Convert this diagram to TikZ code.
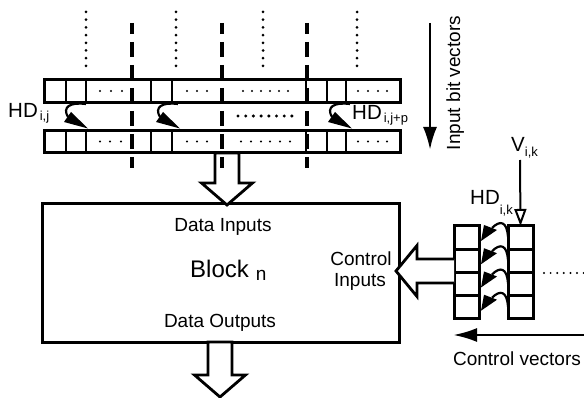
\documentclass[tikz,border=0pt]{standalone}
\usepackage{fontspec}
\setmainfont{Liberation Sans}
\usetikzlibrary{arrows.meta,calc}
\newcommand\fsmain{\fontsize{19}{22}\selectfont}
\newcommand\fslab{\fontsize{20.5}{24}\selectfont}
\newcommand\fssub{\fontsize{13}{15}\selectfont}
\newcommand\fsbig{\fontsize{24}{28}\selectfont}
% wide hollow arrow pointing down: #1 start of shaft, #2 tip
\newcommand\fatdown[2]{\draw[fat] let \p1=#1, \p2=#2 in
  (\x2-12pt,\y1) -- (\x2-12pt,\y2+22pt) -- (\x2-25.5pt,\y2+22pt) -- (\x2,\y2)
  -- (\x2+25.5pt,\y2+22pt) -- (\x2+12pt,\y2+22pt) -- (\x2+12pt,\y1) -- cycle;}
% wide hollow arrow pointing left: #1 start of shaft, #2 tip
\newcommand\fatleft[2]{\draw[fat] let \p1=#1, \p2=#2 in
  (\x1,\y2+12pt) -- (\x2+21pt,\y2+12pt) -- (\x2+21pt,\y2+25.5pt) -- (\x2,\y2)
  -- (\x2+21pt,\y2-25.5pt) -- (\x2+21pt,\y2-12pt) -- (\x1,\y2-12pt);}
\begin{document}
\begin{tikzpicture}[x=1pt,y=-1pt,
  box/.style={draw, line width=3pt, inner sep=0pt, outer sep=0pt},
  rowbox/.style={box, minimum width=356pt, minimum height=22.5pt},
  cellbox/.style={box, minimum width=25pt, minimum height=23.25pt},
  txt/.style={inner sep=0pt, font=\fsmain},
  fat/.style={draw, line width=2.8pt, fill=white, line join=miter},
  hookline/.style={line width=2.2pt},
  dashcut/.style={line width=3.8pt, dash pattern=on 15pt off 8pt, dash phase=4pt},
  dotcol/.style={line width=3pt, line cap=round, dash pattern=on 0pt off 7.7pt},
  plain/.style={line width=2.8pt},
]
\useasboundingbox (0,0) rectangle (584,398);

% input bit vectors
\node[rowbox] (rowA) at (222,91) {};
\node[rowbox] (rowB) at (222,141.5) {};
\foreach \x in {66,86,151,172,306,327,346} {
  \draw[plain] (\x,80) -- (\x,102);
  \draw[plain] (\x,130) -- (\x,153);
}
% elided bits inside the vectors
\foreach \x in {100,111,122,187,197,207,243,252,261,270,279,288,358,368,378,387}
  \fill (\x,91) circle (1.1pt);
\foreach \x in {100,110,121,187,197,207,241,251,261,270,280,290,358,368,378,387}
  \fill (\x,141.5) circle (1.1pt);
\foreach \x in {238,245.7,...,293} \fill (\x,116) circle (1.7pt);

% columns of further vectors
\foreach \x in {86,176,263,357} \draw[dotcol] (\x,12) -- (\x,66);

% HD transfers between successive vectors
\foreach \a in {80,172,344} {
  \draw[hookline] (\a+6,104) .. controls (\a-10,102) and (\a-18,107) .. (\a-12,117);
  \fill (\a-16,122) -- (\a-9,112) -- (\a+8,128.5) -- cycle;
}
\node[txt, font=\fslab, anchor=base west] (hdij) at (8,118) {HD\kern2pt\raisebox{-3pt}{\fssub i,j}};
\node[txt, font=\fslab, anchor=base west] (hdijp) at (352,120) {HD\kern2pt\raisebox{-3pt}{\fssub i,j+p}};

% direction of the input vectors
\coordinate (ibvS) at (430,23);
\coordinate (ibvE) at (430,150);
\draw[plain, -{Latex[length=23pt,width=14pt]}] (ibvS) -- (ibvE);
\node[txt, anchor=base, rotate=90] (ibv) at (460,83) {Input bit vectors};

% processing block
\node[box, minimum width=357pt, minimum height=138pt] (blk) at (220.5,273) {};
\node[txt, anchor=base] (din) at (223,232) {Data Inputs};
\node[txt, anchor=base west] (bname) at (190,277) {\fsbig Block\kern7pt\raisebox{-4pt}{\fsmain n}};
\node[txt, anchor=base] (dout) at (220,327) {Data Outputs};
\node[txt, anchor=base] (cin1) at (361,266) {Control};
\node[txt, anchor=base] (cin2) at (360,287) {Inputs};

\fatdown{(227,153)}{(227,205)}
\fatdown{(220,342)}{(220,397)}

% partition lines
\foreach \x in {132,222,307} \draw[dashcut] (\x,23) -- (\x,168);

% control vectors
\foreach \i in {0,...,3} {
  \node[cellbox] (cl\i) at (466.5,{237.6+23.25*\i}) {};
  \node[cellbox] (cr\i) at (520.5,{237.6+23.25*\i}) {};
}
\foreach \i in {0,...,3} {
  \draw[hookline] ($(cr\i.north west)+(0,11)$) .. controls +(-1,-16) and +(8,-8) .. ($(cl\i.north east)+(13,2)$);
  \fill ($(cl\i.north east)+(2,15)$) -- ($(cl\i.north east)+(5,-1)$) -- ($(cl\i.north east)+(18,4)$) -- cycle;
}
\foreach \x in {544,550.6,...,585} \fill (\x,273) circle (1.1pt);

\fatleft{(454,271)}{(396,271)}

\node[txt, font=\fslab, anchor=base west] (hdik) at (470,205) {HD\raisebox{-10pt}{\fssub i,k}};
\node[txt, font=\fslab, anchor=base west] (vik) at (511,152) {V\raisebox{-5pt}{\fssub i,k}};
\coordinate (vS) at (520,160);
\draw[line width=2pt, -{Triangle[open,length=17pt,width=12pt]}] (vS) -- (cr0.north);

\coordinate (cvS) at (585,335);
\coordinate (cvE) at (453,335);
\draw[plain, -{Latex[length=24pt,width=14pt]}] (cvS) -- (cvE);
\node[txt, anchor=base] (cvl) at (517,365) {Control vectors};
\end{tikzpicture}
\end{document}
